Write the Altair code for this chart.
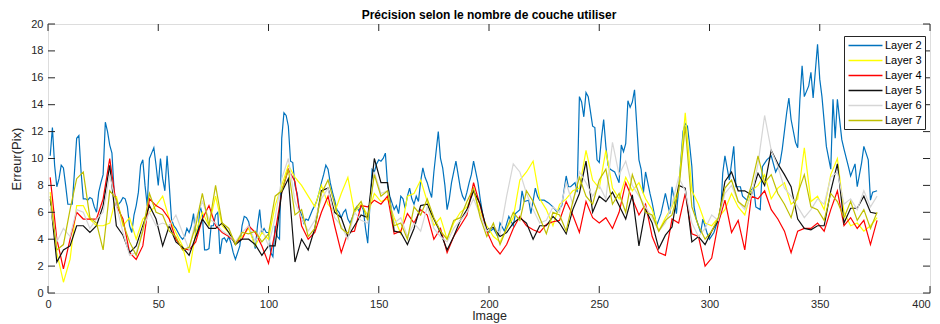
import altair as alt
import pandas as pd

FONT = "Liberation Sans"
TITLE = "Précision selon le nombre de couche utiliser"
X_TITLE = "Image"
Y_TITLE = "Erreur(Pix)"
SERIES = ["Layer 2", "Layer 3", "Layer 4", "Layer 5", "Layer 6", "Layer 7"]
COLORS = ["#0072BD", "#FFFF00", "#FF0000", "#111111", "#D6D6D6", "#BFBF00"]
X_TICKS = [0, 50, 100, 150, 200, 250, 300, 350, 400]
Y_TICKS = [0, 2, 4, 6, 8, 10, 12, 14, 16, 18, 20]

# Layer 2 (blue): (image, error) vertices
LAYER2 = [
    (1, 10.2), (2, 12.3), (3, 9.5), (4, 7.9), (5, 8.5), (6, 9.5), (7, 9.3), (8, 8.0), (9, 6.6), (10, 6.6),
    (11, 6.6), (12, 9.0), (13, 11.5), (14, 11.7), (15, 9.0), (16, 7.0), (17, 7.0), (18, 6.9), (19, 7.1), (20, 7.0),
    (21, 6.4), (22, 6.0), (23, 7.5), (24, 8.2), (25, 8.8), (26, 12.7), (27, 12.0), (28, 11.0), (29, 10.4), (30, 7.5),
    (31, 6.5), (32, 6.6), (33, 6.8), (34, 7.1), (35, 7.0), (36, 6.4), (37, 5.0), (38, 4.5), (39, 5.8), (40, 6.5),
    (41, 7.5), (42, 9.5), (43, 9.9), (44, 8.0), (45, 6.5), (46, 10.0), (47, 10.4), (48, 10.8), (49, 9.5), (50, 8.0),
    (51, 10.0), (52, 8.5), (53, 7.6), (54, 10.2), (55, 8.0), (56, 5.5), (57, 5.0), (58, 4.8), (59, 4.5), (60, 4.2),
    (61, 4.0), (62, 4.2), (63, 4.8), (64, 4.5), (65, 5.0), (66, 5.9), (67, 4.2), (68, 4.5), (69, 6.5), (70, 5.8),
    (71, 3.2), (72, 3.2), (73, 3.3), (74, 5.0), (75, 5.0), (76, 5.8), (77, 6.0), (78, 2.9), (79, 4.0), (80, 4.1),
    (81, 3.8), (82, 4.2), (83, 3.7), (84, 3.0), (85, 2.5), (86, 3.0), (87, 3.5), (88, 5.0), (89, 5.7), (90, 5.6),
    (91, 5.3), (92, 4.5), (93, 4.0), (94, 3.3), (95, 5.0), (96, 6.2), (97, 4.5), (98, 4.8), (99, 4.5), (100, 4.5),
    (101, 3.0), (102, 2.7), (103, 5.0), (104, 4.2), (105, 4.0), (106, 11.5), (107, 13.4), (108, 13.2), (109, 12.4), (110, 9.8),
    (111, 9.7), (112, 8.0), (113, 7.4), (114, 6.2), (115, 5.8), (116, 5.2), (117, 5.5), (118, 5.4), (119, 5.8), (120, 6.2),
    (121, 6.5), (122, 6.9), (123, 7.5), (124, 8.2), (125, 8.8), (126, 9.5), (127, 9.2), (128, 8.2), (129, 7.5), (130, 6.9),
    (131, 6.2), (132, 6.0), (133, 5.6), (134, 6.0), (135, 6.2), (136, 5.5), (137, 5.2), (138, 5.6), (139, 6.0), (140, 6.4),
    (141, 6.1), (142, 6.5), (143, 6.2), (144, 4.8), (145, 3.7), (146, 6.5), (147, 9.2), (148, 9.0), (149, 9.6), (150, 9.9),
    (151, 9.8), (152, 10.0), (153, 10.4), (154, 8.0), (155, 7.2), (156, 6.7), (157, 6.2), (158, 6.5), (159, 5.9), (160, 7.2),
    (161, 7.0), (162, 6.3), (163, 7.2), (164, 7.8), (165, 7.0), (166, 6.6), (167, 7.2), (168, 6.8), (169, 8.3), (170, 9.3),
    (171, 8.6), (172, 8.2), (173, 7.6), (174, 7.1), (175, 9.0), (176, 10.5), (177, 12.0), (178, 10.0), (179, 9.3), (180, 8.0),
    (181, 6.2), (182, 7.0), (183, 8.2), (184, 9.0), (185, 9.8), (186, 8.8), (187, 7.8), (188, 7.2), (189, 6.9), (190, 7.5),
    (191, 8.2), (192, 8.8), (193, 9.8), (194, 9.0), (195, 8.2), (196, 7.0), (197, 6.0), (198, 5.2), (199, 4.7), (200, 4.5),
    (202, 4.8), (204, 4.2), (205, 5.2), (207, 4.6), (209, 5.7), (211, 5.0), (212, 5.9), (214, 6.2), (215, 7.6), (216, 6.8),
    (218, 6.9), (219, 5.9), (221, 7.8), (222, 7.2), (223, 6.9), (225, 6.9), (227, 6.7), (229, 6.4), (231, 6.0), (233, 6.5),
    (235, 8.7), (236, 7.9), (237, 7.9), (239, 8.2), (240, 7.5), (241, 14.6), (242, 14.2), (243, 13.1), (244, 14.9), (245, 14.6),
    (246, 13.5), (247, 12.4), (248, 12.3), (249, 9.9), (250, 9.7), (251, 11.5), (252, 12.9), (253, 10.9), (254, 9.5), (255, 9.2),
    (257, 9.0), (259, 8.2), (260, 11.0), (261, 10.5), (262, 11.1), (263, 14.3), (264, 13.8), (265, 14.2), (266, 15.1), (267, 12.5),
    (268, 9.9), (269, 9.2), (270, 7.4), (271, 9.0), (272, 8.2), (273, 7.4), (274, 6.7), (276, 5.0), (278, 5.9), (280, 7.4),
    (282, 5.9), (283, 7.9), (285, 5.9), (286, 7.7), (288, 12.0), (289, 12.6), (290, 12.4), (291, 11.0), (292, 9.4), (293, 6.4),
    (294, 5.5), (296, 4.5), (297, 5.5), (299, 4.4), (300, 4.0), (302, 4.5), (303, 5.0), (305, 5.8), (306, 8.9), (307, 10.2),
    (309, 8.4), (311, 10.9), (312, 7.9), (314, 7.9), (315, 7.2), (317, 6.9), (318, 7.4), (320, 7.9), (321, 6.4), (323, 6.2),
    (324, 9.4), (326, 9.9), (328, 10.2), (330, 9.0), (332, 9.7), (333, 10.7), (335, 13.4), (336, 14.5), (337, 12.9), (339, 11.2),
    (340, 10.8), (341, 14.4), (342, 16.9), (343, 14.6), (345, 15.4), (346, 16.4), (347, 14.5), (349, 18.5), (350, 15.9), (351, 14.6),
    (353, 10.9), (355, 9.2), (356, 14.4), (357, 11.5), (358, 14.4), (360, 11.4), (361, 10.7), (363, 9.4), (364, 8.7), (366, 9.6),
    (367, 7.9), (369, 9.7), (370, 10.9), (372, 9.9), (373, 6.9), (374, 7.5), (376, 7.6),
]

# Other layers: values at images 1, 4, 7, ... 376 (one row = 30 images)
IMAGES = list(range(1, 377, 3))

LAYER3 = [
    7.5, 3.0, 0.8, 2.5, 6.5, 6.5, 5.5, 5.0, 5.0, 5.2,
    7.2, 5.0, 5.6, 4.0, 5.5, 6.0, 6.5, 7.2, 5.5, 4.5,
    3.5, 1.5, 4.5, 6.0, 5.0, 7.2, 5.0, 4.5, 3.8, 4.2,
    4.8, 3.5, 4.5, 4.0, 6.5, 8.0, 9.5, 8.6, 8.0, 7.2,
    6.4, 8.0, 6.6, 6.0, 7.4, 8.6, 6.0, 6.6, 5.8, 7.4,
    6.8, 7.0, 5.6, 4.4, 7.2, 7.4, 8.4, 6.8, 5.0, 5.6,
    4.0, 5.2, 6.0, 6.4, 7.6, 6.0, 5.0, 4.2, 3.8, 4.8,
    5.6, 8.4, 9.0, 9.8, 7.0, 6.2, 5.0, 6.6, 7.0, 7.6,
    7.8, 10.6, 8.4, 7.8, 10.6, 7.8, 7.0, 8.6, 7.6, 8.2,
    7.0, 6.2, 4.6, 5.6, 6.4, 7.8, 13.4, 7.6, 6.6, 5.2,
    5.0, 5.6, 6.2, 7.4, 6.4, 5.8, 7.6, 8.0, 8.8, 7.0,
    7.8, 8.2, 6.6, 7.0, 10.8, 6.8, 7.2, 6.2, 8.8, 10.0,
    6.0, 5.0, 5.2, 4.6, 5.0, 5.6,
]

LAYER4 = [
    8.6, 4.0, 1.8, 4.0, 6.0, 5.5, 5.5, 5.5, 7.0, 10.0,
    6.5, 5.5, 3.0, 2.5, 3.5, 7.0, 6.5, 6.2, 5.5, 4.0,
    3.3, 3.2, 3.8, 5.5, 6.5, 5.0, 4.5, 4.2, 3.8, 4.0,
    5.0, 4.5, 3.5, 2.2, 4.5, 7.5, 9.2, 8.3, 5.0, 4.0,
    4.5, 6.0, 7.2, 5.0, 3.0, 4.5, 4.6, 6.5, 6.4, 6.9,
    6.6, 7.2, 4.4, 4.6, 5.9, 5.2, 6.2, 5.8, 4.0, 4.8,
    3.0, 4.2, 5.0, 5.8, 8.2, 6.5, 4.6, 3.5, 2.9, 3.6,
    4.8, 5.7, 5.0, 4.7, 4.5, 5.1, 5.3, 5.4, 6.8, 5.8,
    4.5, 6.8, 5.6, 5.2, 5.6, 4.8, 6.0, 8.2, 7.0, 5.8,
    6.6, 4.2, 3.0, 2.8, 5.5, 5.2, 7.4, 4.4, 4.2, 2.0,
    2.6, 5.2, 6.9, 4.5, 5.4, 3.2, 7.2, 7.0, 7.6, 6.2,
    5.5, 4.6, 3.0, 4.6, 4.8, 4.8, 5.2, 4.6, 6.2, 7.6,
    5.0, 5.6, 4.8, 5.4, 3.6, 5.4,
]

LAYER5 = [
    7.0, 2.3, 3.2, 3.5, 5.0, 5.0, 4.5, 5.0, 6.5, 9.5,
    5.0, 4.3, 3.0, 3.5, 5.0, 6.5, 5.5, 3.5, 5.0, 3.8,
    3.4, 2.8, 4.2, 5.5, 4.8, 4.8, 5.2, 4.5, 3.6, 4.0,
    4.0, 3.6, 2.8, 3.5, 3.5, 7.5, 8.5, 2.3, 4.0, 3.2,
    4.8, 7.6, 7.8, 6.0, 5.6, 4.2, 5.0, 5.8, 5.6, 10.0,
    8.2, 8.2, 4.6, 4.5, 3.6, 4.8, 6.5, 6.6, 5.5, 4.5,
    3.2, 4.2, 5.4, 6.2, 7.6, 6.6, 4.7, 4.9, 4.2, 4.5,
    5.2, 5.6, 5.2, 4.0, 5.0, 5.0, 5.7, 5.2, 4.4, 6.2,
    7.4, 9.8, 6.0, 7.2, 6.8, 7.5, 6.5, 5.5, 7.3, 3.5,
    6.2, 5.2, 3.3, 4.3, 4.9, 8.0, 7.8, 3.8, 4.2, 3.6,
    4.6, 5.4, 8.3, 9.0, 7.6, 7.6, 7.3, 8.9, 8.0, 10.6,
    9.6, 8.8, 7.9, 5.5, 4.8, 4.7, 5.0, 5.0, 7.6, 9.6,
    5.2, 6.3, 6.3, 7.2, 6.0, 5.9,
]

LAYER6 = [
    6.5, 3.8, 4.8, 4.2, 6.2, 6.0, 4.8, 5.5, 6.0, 8.8,
    6.5, 4.5, 2.8, 3.0, 4.8, 6.0, 5.0, 5.2, 5.0, 5.8,
    4.5, 3.2, 5.5, 6.8, 5.5, 5.2, 4.6, 4.3, 3.8, 4.5,
    5.0, 3.8, 4.8, 3.5, 5.6, 8.5, 10.0, 6.8, 5.6, 4.6,
    5.4, 7.0, 7.8, 5.6, 5.0, 4.0, 6.0, 5.4, 5.2, 9.0,
    7.4, 7.6, 5.2, 5.6, 4.2, 5.2, 4.6, 6.4, 4.8, 4.2,
    3.8, 4.8, 5.4, 6.0, 7.0, 5.8, 4.6, 5.0, 4.4, 7.2,
    9.6, 9.0, 7.4, 6.2, 5.2, 5.4, 6.4, 6.0, 8.2, 6.6,
    9.0, 8.2, 7.2, 8.0, 7.0, 11.2, 8.8, 9.8, 8.0, 7.2,
    6.4, 5.6, 4.6, 5.2, 6.6, 8.6, 7.6, 5.2, 4.2, 4.8,
    5.8, 5.4, 7.4, 8.0, 6.8, 6.2, 7.2, 9.6, 13.2, 10.6,
    9.4, 7.8, 7.2, 6.4, 5.6, 6.2, 7.0, 6.6, 8.6, 9.0,
    6.6, 7.0, 6.2, 7.6, 6.4, 7.2,
]

LAYER7 = [
    7.2, 3.2, 3.6, 6.2, 8.5, 9.0, 5.6, 5.2, 3.2, 7.6,
    7.0, 5.2, 3.8, 2.8, 4.6, 7.4, 6.0, 5.8, 4.6, 4.2,
    3.2, 3.4, 5.0, 7.4, 5.0, 8.0, 5.2, 4.8, 3.6, 4.5,
    4.4, 4.6, 3.8, 4.4, 7.2, 7.6, 9.2, 5.8, 6.2, 4.2,
    4.8, 7.4, 8.4, 6.6, 4.8, 4.4, 6.2, 6.8, 5.4, 8.8,
    7.2, 7.6, 5.0, 5.2, 4.0, 6.4, 5.8, 7.0, 5.6, 4.6,
    4.0, 5.4, 5.6, 6.8, 7.8, 5.6, 4.2, 5.2, 3.6, 4.8,
    6.0, 5.4, 7.6, 6.8, 5.6, 4.4, 6.0, 5.8, 4.6, 6.8,
    8.6, 7.2, 6.6, 8.4, 9.2, 6.6, 7.4, 6.0, 8.8, 7.4,
    6.0, 5.8, 4.6, 5.4, 5.8, 7.6, 12.4, 6.4, 5.0, 4.0,
    4.6, 5.6, 7.8, 8.4, 6.8, 6.4, 8.0, 10.2, 8.2, 8.8,
    7.4, 6.6, 5.6, 7.4, 8.8, 6.4, 6.2, 5.4, 7.4, 6.8,
    5.6, 6.8, 5.4, 6.2, 4.8, 6.0,
]

for arr in (LAYER3, LAYER4, LAYER5, LAYER6, LAYER7):
    assert len(arr) == len(IMAGES), len(arr)

rows = []
for x, y in LAYER2:
    rows.append({"series": SERIES[0], "x": x, "y": y})
for name, vals in zip(SERIES[1:], (LAYER3, LAYER4, LAYER5, LAYER6, LAYER7)):
    for x, y in zip(IMAGES, vals):
        rows.append({"series": name, "x": x, "y": y})
df = pd.DataFrame(rows)

W, H = 882, 269
TICK = 7
AX = "#262626"

xscale = alt.Scale(domain=[0, 400], nice=False, zero=False)
yscale = alt.Scale(domain=[0, 20], nice=False, zero=False)
cscale = alt.Scale(domain=SERIES, range=COLORS)

xaxis = alt.Axis(values=X_TICKS, title=X_TITLE, ticks=False, grid=False, domain=False,
                 labelPadding=5, titlePadding=0, labelFlush=False, format="d",
                 labelOffset={"condition": {"test": "datum.value >= 400", "value": -9}, "value": 0},
                 labelFontSize=11, titleFontSize=12.5, titleFontWeight="normal",
                 labelColor=AX, titleColor=AX, labelFont=FONT, titleFont=FONT)
yaxis = alt.Axis(values=Y_TICKS, title=Y_TITLE, ticks=False, grid=False, domain=False,
                 labelPadding=5, titlePadding=7, format="d",
                 labelFontSize=11, titleFontSize=13, titleFontWeight="normal",
                 labelColor=AX, titleColor=AX, labelFont=FONT, titleFont=FONT)
legend = alt.Legend(title=None, orient="none", legendX=796, legendY=12,
                    symbolType="M-3,0H3", symbolSize=128, symbolStrokeWidth=1.5,
                    symbolOffset=12, labelOffset=13, padding=3, rowPadding=3,
                    strokeColor=AX, fillColor="white", labelFontSize=11,
                    labelFont=FONT, labelColor="#000000")

base = alt.Chart(df)
layers = []
for name in SERIES:
    layers.append(
        base.transform_filter(alt.datum.series == name)
        .mark_line(strokeWidth=1.2, clip=True)
        .encode(
            x=alt.X("x:Q", scale=xscale, axis=xaxis),
            y=alt.Y("y:Q", scale=yscale, axis=yaxis),
            color=alt.Color("series:N", scale=cscale, legend=legend),
        )
    )

# inward tick marks on the four sides of the box (MATLAB style)
xt = alt.Chart(pd.DataFrame({"x": X_TICKS}))
yt = alt.Chart(pd.DataFrame({"y": Y_TICKS}))
tick_bottom = xt.mark_rule(color=AX, strokeWidth=1).encode(
    x=alt.X("x:Q", scale=xscale, axis=xaxis), y=alt.value(H), y2=alt.value(H - TICK))
tick_top = xt.mark_rule(color=AX, strokeWidth=1).encode(
    x=alt.X("x:Q", scale=xscale, axis=xaxis), y=alt.value(0), y2=alt.value(TICK))
tick_left = yt.mark_rule(color=AX, strokeWidth=1).encode(
    y=alt.Y("y:Q", scale=yscale, axis=yaxis), x=alt.value(0), x2=alt.value(TICK))
tick_right = yt.mark_rule(color=AX, strokeWidth=1).encode(
    y=alt.Y("y:Q", scale=yscale, axis=yaxis), x=alt.value(W), x2=alt.value(W - TICK))

chart = alt.layer(*layers, tick_bottom, tick_top, tick_left, tick_right).properties(
    width=W,
    height=H,
    title=alt.TitleParams(TITLE, fontSize=12, fontWeight="bold", font=FONT,
                          color="#000000", offset=-4, anchor="middle", frame="group"),
    autosize=alt.AutoSizeParams(type="none"),
    padding={"left": 40, "top": 16, "right": 2, "bottom": 31},
).configure_view(stroke=AX, strokeWidth=1).configure(background="white")

chart.save("out.html", embed_options={"renderer": "svg", "actions": False})
